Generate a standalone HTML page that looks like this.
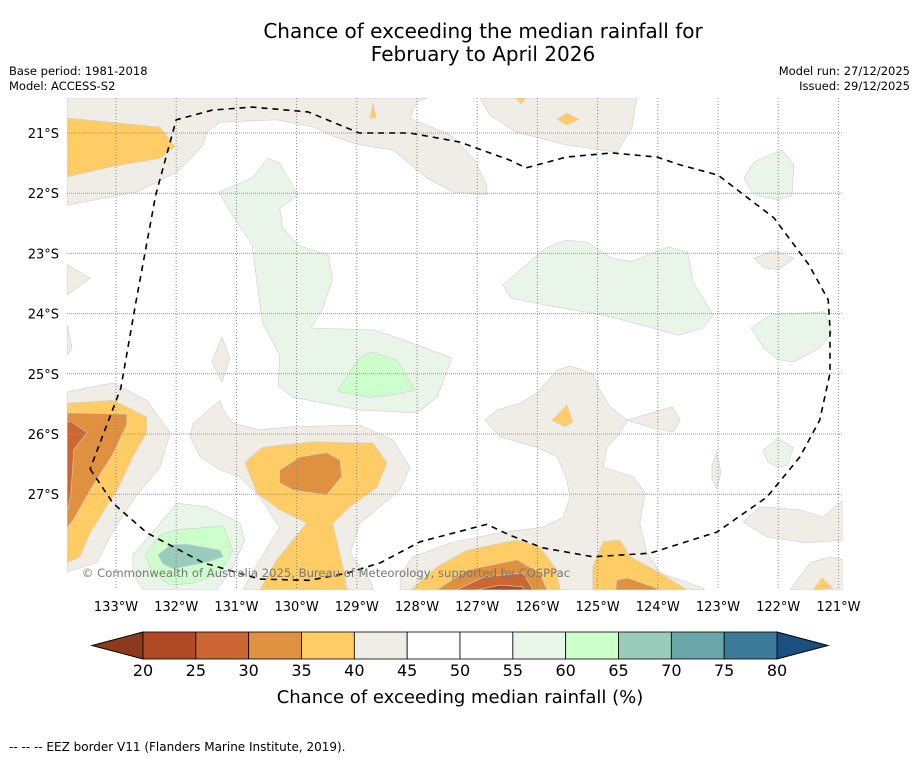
<!DOCTYPE html>
<html><head><meta charset="utf-8">
<style>
html,body{margin:0;padding:0;background:#fff;}
svg{display:block;font-family:"DejaVu Sans","Liberation Sans",sans-serif;}
</style></head>
<body>
<svg id="chart" width="919" height="758" viewBox="0 0 919 758">
<rect width="919" height="758" fill="#fff"/>
<text x="483" y="38" font-size="20" text-anchor="middle">Chance of exceeding the median rainfall for</text>
<text x="483" y="61" font-size="20" text-anchor="middle">February to April 2026</text>
<text x="9" y="75" font-size="11.5">Base period: 1981-2018</text>
<text x="9" y="90" font-size="11.5">Model: ACCESS-S2</text>
<text x="910" y="75" font-size="11.5" text-anchor="end">Model run: 27/12/2025</text>
<text x="910" y="90" font-size="11.5" text-anchor="end">Issued: 29/12/2025</text>
<g id="map"></g>
<g id="grid"></g>
<g id="eez"></g>
<text x="326" y="577" font-size="11.6" fill="#777" text-anchor="middle">© Commonwealth of Australia 2025, Bureau of Meteorology, supported by COSPPac</text>
<g id="axes"></g>
<g id="cbar"></g>
<text x="460" y="703" font-size="18" text-anchor="middle">Chance of exceeding median rainfall (%)</text>
<text x="9" y="751" font-size="12">--  --  -- EEZ border V11 (Flanders Marine Institute, 2019).</text>
</svg>
<script>
// Colour scale data
const levelBounds = [20,25,30,35,40,45,50,55,60,65,70,75,80];
const levelColors = ["#8c3a1c","#b04a26","#cc6633","#e0913f","#ffcc66","#f0ece6","#ffffff","#ffffff","#e9f5e9","#ccffcc","#99ccbb","#6aa5a8","#3d7a99","#1a4f80"];
const lonTicks = [133,132,131,130,129,128,127,126,125,124,123,122,121];
const latTicks = [21,22,23,24,25,26,27];
// Contour regions: [level index, [[lonW, latS], ...]]
const regionLevels = [5,5,5,5,4,4,4,4,8,9,8,8,8,8,5,5,5,5,5,4,3,2,5,4,3,8,9,10,5,5,4,4,3,2,1,4,3,5,4];
const regionPoints = [
 [[133.81,20.42],[127.83,20.42],[128.00,20.48],[128.12,20.75],[127.45,21.03],[127.04,21.45],[126.84,21.86],[126.84,22.03],[127.40,21.98],[127.83,21.75],[128.40,21.28],[128.95,21.20],[129.33,21.08],[129.73,20.90],[130.33,20.78],[131.27,20.82],[131.49,20.98],[131.55,21.20],[131.99,21.65],[132.65,21.98],[133.81,22.20]],
 [[126.95,20.42],[124.35,20.42],[124.43,20.92],[124.68,21.32],[125.52,21.20],[126.36,20.98],[126.79,20.70]],
 [[133.81,23.19],[133.43,23.41],[133.81,23.69]],
 [[133.81,24.19],[133.73,24.57],[133.81,24.69]],
 [[128.78,20.75],[128.73,20.50],[128.68,20.75]],
 [[125.67,20.77],[125.51,20.67],[125.31,20.77],[125.51,20.87]],
 [[126.36,20.42],[126.19,20.42],[126.27,20.52]],
 [[133.81,20.75],[132.27,20.90],[132.02,21.23],[132.27,21.42],[133.08,21.56],[133.81,21.73]],
 [[131.29,21.98],[130.74,21.75],[130.48,21.42],[130.28,21.50],[129.98,22.03],[130.28,22.25],[130.23,22.58],[129.98,22.86],[129.48,23.03],[129.40,23.41],[129.56,23.91],[129.76,24.24],[128.71,24.27],[128.30,24.41],[127.42,24.74],[127.67,25.39],[128.00,25.65],[128.95,25.60],[130.06,25.39],[130.31,25.19],[130.28,24.69],[130.57,24.14],[130.66,23.47],[130.74,22.86],[131.07,22.36]],
 [[129.31,25.27],[128.96,24.74],[128.76,24.64],[128.33,24.77],[128.03,25.27],[128.40,25.35],[128.78,25.39],[129.28,25.30]],
 [[126.57,23.52],[125.86,22.91],[125.52,22.78],[125.18,22.81],[124.76,23.08],[124.43,23.14],[123.83,22.89],[123.50,22.98],[123.42,23.47],[123.08,24.02],[123.25,24.24],[123.66,24.36],[124.26,24.19],[124.93,24.02],[125.86,23.86],[126.44,23.74]],
 [[122.57,21.75],[122.40,21.48],[121.94,21.28],[121.74,21.53],[121.77,22.03],[121.99,22.11],[122.40,22.03]],
 [[122.45,24.24],[122.12,24.02],[121.24,23.97],[121.11,24.32],[121.31,24.57],[121.74,24.80],[121.99,24.77],[122.24,24.57]],
 [[122.25,26.27],[122.02,26.07],[121.75,26.23],[121.84,26.52],[122.00,26.55],[122.17,26.47]],
 [[122.40,23.08],[122.07,22.95],[121.74,23.08],[121.99,23.27],[122.24,23.24]],
 [[131.41,24.80],[131.24,24.39],[131.11,24.74],[131.24,25.14]],
 [[123.10,26.52],[123.02,26.30],[122.95,26.65],[123.02,26.90],[123.10,26.76]],
 [[133.81,25.30],[133.05,25.15],[132.49,25.44],[132.10,25.98],[132.27,26.55],[132.72,27.10],[132.93,27.43],[133.10,27.71],[133.32,28.14],[133.81,28.29]],
 [[131.72,25.82],[131.27,25.44],[131.22,25.60],[131.06,25.82],[130.61,25.93],[130.06,25.88],[128.95,25.85],[128.40,26.10],[128.12,26.55],[128.28,26.93],[128.95,27.48],[129.11,27.98],[128.78,28.43],[128.73,28.59],[130.89,28.59],[130.61,28.09],[130.28,27.55],[130.61,27.05],[130.94,26.71],[131.27,26.60],[131.60,26.38],[131.77,26.05]],
 [[133.81,25.49],[133.05,25.44],[132.82,25.55],[132.49,25.72],[132.49,25.98],[132.72,26.38],[132.98,26.93],[133.43,27.64],[133.60,28.04],[133.81,28.14]],
 [[133.81,25.65],[132.82,25.67],[132.82,25.84],[133.05,26.33],[133.43,26.93],[133.71,27.43],[133.81,27.55]],
 [[133.81,25.80],[133.73,25.80],[133.48,25.98],[133.70,26.25],[133.75,27.00],[133.81,27.30]],
 [[126.87,25.77],[126.67,25.60],[126.29,25.49],[126.01,25.32],[125.67,24.94],[125.46,24.87],[125.08,24.99],[124.96,25.27],[124.79,25.55],[124.51,25.77],[124.63,25.98],[124.84,26.22],[124.91,26.55],[124.41,26.71],[124.21,26.98],[124.30,27.48],[124.18,27.98],[123.96,28.31],[123.30,28.54],[123.22,28.59],[128.28,28.59],[128.28,28.34],[128.07,28.04],[127.45,27.81],[126.62,27.64],[125.91,27.55],[125.57,27.38],[125.46,27.05],[125.51,26.76],[125.67,26.38],[126.01,26.22],[126.62,26.05]],
 [[130.86,26.47],[130.56,26.22],[129.73,26.13],[128.73,26.15],[128.50,26.48],[128.66,26.88],[129.11,27.21],[129.40,27.48],[129.23,28.21],[129.16,28.59],[130.61,28.59],[130.33,28.09],[129.83,27.48],[130.28,27.26],[130.66,26.98]],
 [[130.28,26.60],[129.94,26.38],[129.50,26.31],[129.28,26.43],[129.25,26.71],[129.50,27.01],[130.06,26.93],[130.28,26.81]],
 [[132.72,28.01],[132.32,27.55],[131.99,27.15],[131.49,27.21],[130.94,27.48],[130.86,27.76],[131.06,28.21],[131.32,28.59],[132.55,28.59],[132.72,28.31]],
 [[132.52,28.01],[132.27,27.68],[131.99,27.59],[131.22,27.53],[131.06,27.93],[131.27,28.31],[131.72,28.48],[132.10,28.51],[132.39,28.31]],
 [[132.30,28.01],[132.10,27.84],[131.82,27.83],[131.27,27.93],[131.22,28.04],[131.49,28.13],[132.05,28.24],[132.22,28.16]],
 [[124.51,25.77],[123.76,25.55],[123.63,25.77],[123.75,25.97],[124.08,25.90]],
 [[122.58,27.46],[122.30,27.21],[121.64,27.26],[121.26,27.38],[120.92,27.10],[120.92,27.76],[121.52,27.81],[122.19,27.71]],
 [[125.76,25.77],[125.51,25.52],[125.41,25.80],[125.54,25.88]],
 [[128.10,28.59],[128.07,28.56],[127.67,28.21],[127.17,27.93],[126.34,27.76],[125.96,27.88],[125.71,28.21],[125.62,28.59]],
 [[127.67,28.59],[127.17,28.26],[126.34,28.09],[125.96,28.31],[125.84,28.59]],
 [[127.34,28.59],[126.90,28.38],[126.24,28.31],[126.07,28.59]],
 [[127.00,28.59],[126.62,28.51],[126.24,28.54],[126.24,28.59]],
 [[125.08,28.21],[124.91,27.79],[124.63,27.76],[124.46,28.04],[123.96,28.31],[123.51,28.59],[125.08,28.59]],
 [[124.68,28.43],[124.51,28.39],[124.08,28.54],[123.96,28.59],[124.70,28.59]],
 [[121.80,28.59],[121.47,28.14],[121.14,28.04],[120.92,28.09],[120.92,28.59]],
 [[121.42,28.59],[121.27,28.39],[121.09,28.56]]
];
const eezLon = [133.43,133.05,132.49,131.55,130.61,129.78,129.16,128.61,127.95,126.84,126.46,125.91,125.08,124.13,123.02,122.19,121.64,121.31,121.14,121.14,121.17,121.49,122.07,123.00,123.63,124.01,124.76,125.52,126.19,126.46,127.29,128.12,128.96,129.81,130.74,131.40,132.00,132.34,132.67,132.92,133.43];
const eezLat = [26.58,27.15,27.64,28.14,28.41,28.43,28.31,28.14,27.79,27.50,27.68,27.89,28.04,27.98,27.63,27.05,26.38,25.77,24.99,24.24,23.77,23.19,22.41,21.70,21.53,21.40,21.33,21.40,21.58,21.45,21.15,21.00,21.00,20.65,20.57,20.62,20.78,22.03,23.81,25.24,26.58];

const NS = "http://www.w3.org/2000/svg";
const X0 = 116, Y0 = 133, DEG = 60.2;
function xScale(lonW){ return X0 + (133 - lonW) * DEG; }
function yScale(latS){ return Y0 + (latS - 21) * DEG; }
const CB_X0 = 143, CB_X1 = 777, CB_Y = 632, CB_H = 27;
function cbScale(v){ return CB_X0 + (v - levelBounds[0]) / (levelBounds[levelBounds.length-1] - levelBounds[0]) * (CB_X1 - CB_X0); }
function mk(tag, attrs, parent){ const e = document.createElementNS(NS, tag); for (const k in attrs) e.setAttribute(k, attrs[k]); parent.appendChild(e); return e; }

const map = document.getElementById('map');
const clip = mk('clipPath', {id:'mapclip'}, map);
mk('rect', {x:67, y:98, width:776, height:492}, clip);
const mg = mk('g', {'clip-path':'url(#mapclip)'}, map);
regionPoints.forEach((pts, i) => {
  const d = pts.map(p => xScale(p[0]).toFixed(1) + ',' + yScale(p[1]).toFixed(1)).join(' ');
  const poly = mk('polygon', {points:d, fill:levelColors[regionLevels[i]], stroke:'#cfcfcf', 'stroke-width':0.6}, mg);
  
  
});

const grid = document.getElementById('grid');
lonTicks.forEach(l => {
  const ln = mk('line', {x1:xScale(l), x2:xScale(l), y1:98, y2:590, stroke:'#888', 'stroke-width':1, 'stroke-dasharray':'1,2'}, grid);
  
  
});
latTicks.forEach(l => {
  const ln = mk('line', {x1:67, x2:843, y1:yScale(l), y2:yScale(l), stroke:'#999', 'stroke-width':1, 'stroke-dasharray':'1,1'}, grid);
  
  
});

const eez = document.getElementById('eez');
const eezD = eezLon.map((l, i) => xScale(l).toFixed(1) + ',' + yScale(eezLat[i]).toFixed(1)).join(' ');
const eezLine = mk('polyline', {points:eezD, fill:'none', stroke:'#000', 'stroke-width':1.6, 'stroke-dasharray':'6,5'}, eez);



const axes = document.getElementById('axes');
lonTicks.forEach(l => {
  const t = mk('text', {x:xScale(l), y:611, 'font-size':13, 'text-anchor':'middle'}, axes);
  t.textContent = l + '°W';
  
  
});
latTicks.forEach(l => {
  const t = mk('text', {x:59, y:yScale(l) + 5, 'font-size':13, 'text-anchor':'end'}, axes);
  t.textContent = l + '°S';
  
  
});

const cb = document.getElementById('cbar');
const lowTri = mk('polygon', {points:`${CB_X0},${CB_Y} 92,${CB_Y+CB_H/2} ${CB_X0},${CB_Y+CB_H}`, fill:levelColors[0], stroke:'#000', 'stroke-width':1}, cb);


const highTri = mk('polygon', {points:`${CB_X1},${CB_Y} 828,${CB_Y+CB_H/2} ${CB_X1},${CB_Y+CB_H}`, fill:levelColors[levelColors.length-1], stroke:'#000', 'stroke-width':1}, cb);


for (let i = 0; i < levelBounds.length - 1; i++) {
  const x0 = cbScale(levelBounds[i]), x1 = cbScale(levelBounds[i+1]);
  const r = mk('rect', {x:x0, y:CB_Y, width:x1 - x0, height:CB_H, fill:levelColors[i+1], stroke:'#000', 'stroke-width':0.8}, cb);
  
  
}
levelBounds.forEach(v => {
  const t = mk('text', {x:cbScale(v), y:676, 'font-size':16, 'text-anchor':'middle'}, cb);
  t.textContent = v;
  
  
});
</script>
</body></html>
